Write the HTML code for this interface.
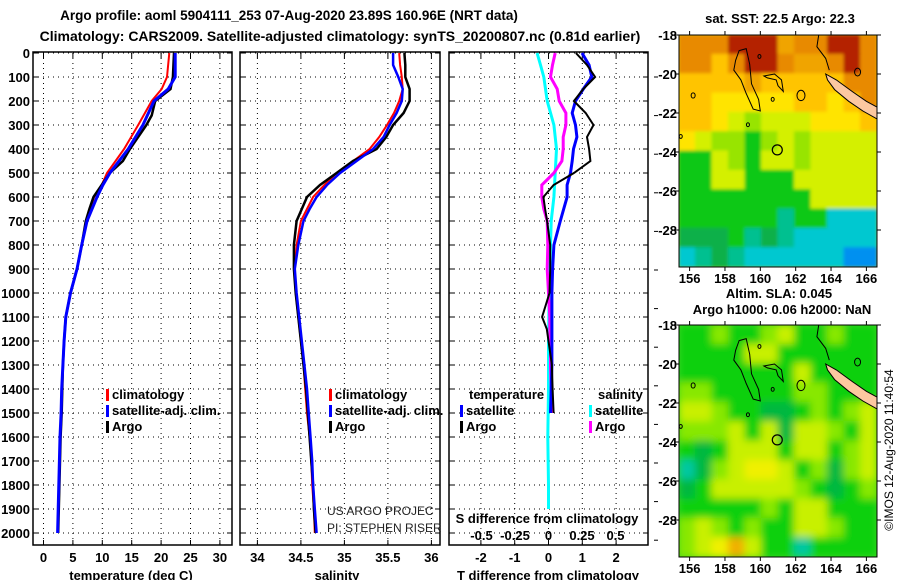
<!DOCTYPE html>
<html><head><meta charset="utf-8">
<style>
html,body{margin:0;padding:0;background:#fff;}
svg{display:block;font-family:"Liberation Sans",sans-serif;}
.t{font-weight:bold;font-size:13px;fill:#000;}
</style></head>
<body>
<svg id="chart" width="900" height="580" viewBox="0 0 900 580" xmlns="http://www.w3.org/2000/svg">
<text x="289" y="20" text-anchor="middle" class="t" style="font-size:13.5px">Argo profile: aoml 5904111_253 07-Aug-2020 23.89S 160.96E (NRT data)</text>
<text x="340" y="41" text-anchor="middle" class="t" style="font-size:14px">Climatology: CARS2009. Satellite-adjusted climatology: synTS_20200807.nc (0.81d earlier)</text>
<g id="plots"></g>
<g id="maps"></g>
<text transform="translate(893,450) rotate(-90)" text-anchor="middle" style="font-size:12px">©IMOS 12-Aug-2020 11:40:54</text>
</svg>
<script>
// ---- profile data ----
const depthTicks=[0,100,200,300,400,500,600,700,800,900,1000,1100,1200,1300,1400,1500,1600,1700,1800,1900,2000];
const tempTicks=[0,5,10,15,20,25,30];
const salTicks=[34,34.5,35,35.5,36];
const salTickLabels=["34","34.5","35","35.5","36"];
const tdiffTicks=[-2,-1,0,1,2];
const sdiffTicks=[-0.5,-0.25,0,0.25,0.5];
const sdiffTickLabels=["-0.5","-0.25","0","0.25","0.5"];

const tDepths=[0,100,150,200,300,400,500,550,600,700,800,900,1000,1100,1200,1300,1400,1500,1600,1700,1800,1900,2000];
const tempClim=[21.4,21.0,20.1,18.4,16.1,13.7,10.8,9.9,8.6,7.3,6.5,5.7,4.6,3.8,3.5,3.3,3.1,3.0,2.8,2.7,2.6,2.5,2.4];
const tempSat=[22.4,22.4,21.2,18.8,16.9,14.4,11.3,10.1,9.1,7.4,6.5,5.7,4.6,3.8,3.5,3.3,3.1,3.0,2.8,2.7,2.6,2.5,2.4];
const aDepths=[0,100,150,200,260,300,400,450,500,550,600,650,700,800,900,1000,1100,1200,1300,1400,1500,1600,1700,1800,1900,2000];
const tempArgo=[22.2,22.0,21.6,19.0,18.4,17.5,14.7,13.5,11.3,9.9,8.5,7.8,7.2,6.5,5.7,4.6,3.8,3.5,3.3,3.2,3.1,2.9,2.8,2.7,2.6,2.5];

const sDepths=[0,50,100,150,200,250,300,350,400,450,500,550,600,650,700,800,900,1000,1100,1200,1300,1400,1500,1600,1700,1800,1900,2000];
const salClim=[35.63,35.64,35.66,35.67,35.63,35.57,35.49,35.40,35.29,35.10,34.91,34.77,34.64,34.57,34.50,34.45,34.43,34.44,34.47,34.50,34.53,34.55,34.57,34.60,34.62,34.63,34.65,34.66];
const salSat=[35.56,35.56,35.62,35.67,35.66,35.60,35.52,35.45,35.33,35.14,34.95,34.80,34.68,34.60,34.53,34.47,34.43,34.45,34.48,34.51,34.54,34.57,34.59,34.61,34.63,34.64,34.66,34.68];
const salArgo=[35.69,35.70,35.70,35.75,35.75,35.68,35.56,35.48,35.37,35.10,34.91,34.72,34.57,34.51,34.45,34.42,34.42,34.44,34.47,34.50,34.53,34.56,34.58,34.60,34.62,34.64,34.65,34.67];

const dDepths=[0,50,100,150,200,250,300,350,400,450,500,550,600,650,700,800,900,1000,1100,1150,1200,1300,1400,1500];
const tdiffSat=[0.99,1.2,1.28,1.03,0.8,0.7,0.8,0.84,0.74,0.7,0.65,0.55,0.55,0.45,0.35,0.16,0.12,0.1,0.1,0.1,0.1,0.1,0.08,0.06];
const tdiffArgo=[0.81,1.14,1.38,1.03,0.75,1.1,1.33,1.14,1.2,1.24,0.75,0.15,-0.15,-0.1,-0.04,0.05,0.05,0.03,-0.19,-0.05,0.0,0.1,0.12,0.15];
const sdiffArgo=[0.05,0.03,0.015,0.065,0.08,0.13,0.13,0.11,0.11,0.1,0.04,-0.05,-0.05,-0.035,-0.01,-0.005,-0.01,0.0,0.01,0.01,0.015,0.015,0.02,0.02];
const sdDepths=[0,50,100,200,300,400,500,600,700,800,1000,1200,1400,1600,1800,1900];
const sdiffSat=[-0.085,-0.06,-0.035,-0.01,0.04,0.06,0.05,0.04,0.02,0.015,0.005,0.0,0.0,-0.005,0.0,0.0];

const NS="http://www.w3.org/2000/svg";
function el(tag,attrs,parent,text){const e=document.createElementNS(NS,tag);for(const k in attrs)e.setAttribute(k,attrs[k]);if(text!==undefined)e.textContent=text;parent.appendChild(e);return e;}

const yD=d=>53+d*0.24;
const xT=t=>43.5+t*5.88;
const xS=s=>257.4+(s-34)*87;
const xTD=t=>548.5+t*33.8;
const xSD=s=>548.5+s*134;

const plots=document.getElementById('plots');
const panels=[{l:33,r:232,name:'temperature-panel'},{l:240,r:440,name:'salinity-panel'},{l:449,r:648,name:'difference-panel'}];
const pTop=53,pBot=545;

function panelFrame(p,vx){
  const g=el('g',{},plots);
  
  
  depthTicks.forEach(d=>{
    const gl=el('line',{x1:p.l,x2:p.r,y1:yD(d),y2:yD(d),stroke:'#000','stroke-width':1,'stroke-dasharray':'1,4'},g);
    
    
    el('line',{x1:p.l,x2:p.l+5,y1:yD(d),y2:yD(d),stroke:'#000'},g);
    el('line',{x1:p.r-5,x2:p.r,y1:yD(d),y2:yD(d),stroke:'#000'},g);
  });
  vx.forEach(x=>{
    const gl=el('line',{x1:x,x2:x,y1:pTop,y2:pBot,stroke:'#000','stroke-width':1,'stroke-dasharray':'1,4'},g);
    
    
    el('line',{x1:x,x2:x,y1:pBot-5,y2:pBot,stroke:'#000'},g);
    el('line',{x1:x,x2:x,y1:pTop,y2:pTop+5,stroke:'#000'},g);
  });
  const fr=el('rect',{x:p.l,y:pTop-1,width:p.r-p.l,height:pBot-pTop+1,fill:'none',stroke:'#000','stroke-width':1.5},g);
  
  
  return g;
}
function line(g,xs,ds,fx,color,w,name){
  const pts=xs.map((v,i)=>fx(v).toFixed(1)+','+yD(ds[i]).toFixed(1)).join(' ');
  const pl=el('polyline',{points:pts,fill:'none',stroke:color,'stroke-width':w,'stroke-linejoin':'miter'},g);
  
  
}
function label(g,x,y,txt,name,anchor,extra){
  const t=el('text',Object.assign({x:x,y:y,'text-anchor':anchor||'middle',class:'t'},extra||{}),g,txt);
  
  
  return t;
}
function legend(g,x,y,color,txt,name){
  const m=el('rect',{x:x,y:y-10,width:3,height:12,fill:color},g);
  
  
  label(g,x+6,y,txt,name,'start');
}

// Panel 1
const g1=panelFrame(panels[0],tempTicks.map(xT));
depthTicks.forEach(d=>label(plots,30,yD(d)+5,String(d),'depth-tick-label','end'));
tempTicks.forEach(t=>label(g1,xT(t),562,String(t),'temp-tick-label'));
label(g1,131,580,'temperature (deg C)','x-axis-title-temperature');
line(g1,tempClim,tDepths,xT,'#f00',2,'temp-climatology-line');
line(g1,tempArgo,aDepths,xT,'#000',2.5,'temp-argo-line');
line(g1,tempSat,tDepths,xT,'#00f',3,'temp-satellite-line');
legend(g1,106,399,'#f00','climatology','legend-climatology');
legend(g1,106,415,'#00f','satellite-adj. clim.','legend-satellite');
legend(g1,106,431,'#000','Argo','legend-argo');

// Panel 2
const g2=panelFrame(panels[1],salTicks.map(xS));
salTicks.forEach((s,i)=>label(g2,xS(s),562,salTickLabels[i],'sal-tick-label'));
label(g2,337,580,'salinity','x-axis-title-salinity');
line(g2,salClim,sDepths,xS,'#f00',2,'sal-climatology-line');
line(g2,salArgo,sDepths,xS,'#000',2.5,'sal-argo-line');
line(g2,salSat,sDepths,xS,'#00f',2.5,'sal-satellite-line');
legend(g2,329,399,'#f00','climatology','legend-climatology');
legend(g2,329,415,'#00f','satellite-adj. clim.','legend-satellite');
legend(g2,329,431,'#000','Argo','legend-argo');
const c1=el('text',{x:327,y:515,style:'font-size:12px;fill:#222'},g2,'US ARGO PROJEC');

const c2=el('text',{x:327,y:532,style:'font-size:12px;fill:#222'},g2,'PI: STEPHEN RISER');


// Panel 3
const g3=panelFrame(panels[2],tdiffTicks.map(xTD));
tdiffTicks.forEach(t=>label(g3,xTD(t),562,String(t),'tdiff-tick-label'));
label(g3,548,580,'T difference from climatology','x-axis-title-tdiff');
sdiffTicks.forEach((s,i)=>label(g3,xSD(s),540,sdiffTickLabels[i],'sdiff-tick-label'));
label(g3,547,523,'S difference from climatology','sdiff-axis-title');
line(g3,sdiffSat,sdDepths,xSD,'#0ff',3,'sdiff-satellite-line');
line(g3,sdiffArgo,dDepths,xSD,'#f0f',3,'sdiff-argo-line');
line(g3,tdiffSat,dDepths,xTD,'#00f',3,'tdiff-satellite-line');
line(g3,tdiffArgo,dDepths,xTD,'#000',2,'tdiff-argo-line');
label(g3,469,399,'temperature','legend-temperature-heading','start');
label(g3,598,399,'salinity','legend-salinity-heading','start');
legend(g3,460,415,'#00f','satellite','legend-tdiff-satellite');
legend(g3,460,431,'#000','Argo','legend-tdiff-argo');
legend(g3,589,415,'#0ff','satellite','legend-sdiff-satellite');
legend(g3,589,431,'#f0f','Argo','legend-sdiff-argo');
for(let y=77;y<545;y+=38.6){el('line',{x1:654,x2:658,y1:y,y2:y,stroke:'#000'},plots);}

// ---- maps ----
const mapLonTicks=[156,158,160,162,164,166];
const mapLatTicks=[-18,-20,-22,-24,-26,-28];
const sstPal={R:'#b42000',O:'#e88a00',o:'#f0a400',Y:'#ffc400',y:'#ffe400',L:'#d4f000',l:'#98e400',G:'#10c818',g:'#10b048',T:'#00c090',C:'#00c8d0',B:'#0090f0'};
const sstRows=["OOORRRoOORRO","OOYORROooORO","YYYYoYYYYYOO","YYyyyyyYYyYO","YYyLlLLLyyyY","yLllGlLlLLLL","GGLlGLLlLLLL","GGLLGGGLLLLL","GGGGGGGGLLLL","GGGGGGTGGCCC","gggGTgTCCCCC","CTgTCCCCCCBB"];
const slaPal={G:'#10d010',g:'#00b840',l:'#88e800',L:'#c8f000',y:'#f0f000',O:'#f0b000',C:'#00c8a0'};
const slaRows=["GGlGGlLGGlGG","GGGGLLGGGGGG","GGGGGGGLGGGG","llGGGGGllGGG","LLlGGggGlGlL","lllLGLgLLlGL","GgGLLLGLLGlL","CglLyyLGlglL","gGLLLLLlGgGl","GGGGGlGLLGGG","lLlGlGGLLlGG","lLyOLGGCGGGG"];
const coastIsland1=[[158.8,-18.8],[159.2,-18.7],[159.4,-19.5],[159.5,-20.5],[159.9,-21.3],[160.0,-21.9],[159.6,-21.8],[159.2,-21.0],[158.9,-20.3],[158.5,-19.8],[158.6,-19.3]];
const coastIsland2=[[160.2,-20.1],[160.8,-20.0],[161.2,-20.3],[161.3,-20.9],[161.0,-20.6],[160.9,-20.3],[160.4,-20.2]];
const coastNorth=[[163.3,-18.0],[163.2,-18.6],[163.7,-19.2],[163.9,-19.8]];
const newCaledonia=[[163.7,-20.0],[164.3,-20.3],[165.2,-20.9],[166.0,-21.4],[166.6,-21.7],[166.6,-22.3],[165.8,-21.9],[165.0,-21.4],[164.2,-20.8],[163.8,-20.3]];
const argoPos=[160.96,-23.89];

const maps=document.getElementById('maps');
function drawMap(y0,rows,pal,name,filt,bg){
  const L=679,R=877,T=y0,B=y0+232;
  const xL=lon=>L+(lon-155.4)/11.2*(R-L);
  const yL=lat=>T+(-18-lat)*19.5;
  const g=el('g',{},maps);
  
  
  const cid='clip'+name;
  const cp=el('clipPath',{id:cid},g);el('rect',{x:L,y:T,width:R-L,height:B-T},cp);
  const fg=el('g',{'clip-path':'url(#'+cid+')'},g);
  el('rect',{x:L,y:T,width:R-L,height:B-T,fill:bg},fg);
  const inner=el('g',{filter:'url(#'+filt+')'},fg);
  const nr=rows.length,nc=rows[0].length,cw=(R-L)/nc,ch=(B-T)/nr;
  rows.forEach((row,i)=>{for(let j=0;j<nc;j++){
    const c=el('rect',{x:L+j*cw-0.5,y:T+i*ch-0.5,width:cw+1,height:ch+1,fill:pal[row[j]]},inner);
    
    
  }});
  const pp=a=>a.map(p=>xL(p[0]).toFixed(1)+','+yL(p[1]).toFixed(1)).join(' ');
  el('polygon',{points:pp(newCaledonia),fill:'#fcc8a0',stroke:'#000','stroke-width':1},fg);
  el('polygon',{points:pp(coastIsland1),fill:'none',stroke:'#000','stroke-width':1},fg);
  el('polygon',{points:pp(coastIsland2),fill:'none',stroke:'#000','stroke-width':1},fg);
  el('polyline',{points:pp(coastNorth),fill:'none',stroke:'#000','stroke-width':1},fg);
  [[162.3,-21.1,4],[156.2,-21.1,2],[155.5,-23.2,1.5],[159.3,-22.6,1.5],[159.95,-19.1,1.5],[165.5,-19.9,3],[160.7,-21.3,1.5]].forEach(c=>el('ellipse',{cx:xL(c[0]),cy:yL(c[1]),rx:c[2],ry:c[2]*1.3,fill:'none',stroke:'#000'},fg));
  const ac=el('circle',{cx:xL(argoPos[0]),cy:yL(argoPos[1]),r:5,fill:'none',stroke:'#000','stroke-width':1.2},fg);
  
  
  el('rect',{x:L,y:T,width:R-L,height:B-T,fill:'none',stroke:'#000','stroke-width':1},g);
  mapLonTicks.forEach(lon=>{
    el('line',{x1:xL(lon),x2:xL(lon),y1:T-4,y2:T,stroke:'#000'},g);
    el('line',{x1:xL(lon),x2:xL(lon),y1:B,y2:B+4,stroke:'#000'},g);
    label(g,xL(lon),B+16,String(lon),'map-lon-tick-label');
  });
  mapLatTicks.forEach(lat=>{
    el('line',{x1:L-4,x2:L,y1:yL(lat),y2:yL(lat),stroke:'#000'},g);
    el('line',{x1:R,x2:R+4,y1:yL(lat),y2:yL(lat),stroke:'#000'},g);
    label(g,677,yL(lat)+5,String(lat),'map-lat-tick-label','end');
  });
}
const defs=el('defs',{},maps);
const blurA=el('filter',{id:'bl',x:'-5%',y:'-5%',width:'110%',height:'110%'},defs);
el('feGaussianBlur',{stdDeviation:4},blurA);
const blurB=el('filter',{id:'bls',x:'-5%',y:'-5%',width:'110%',height:'110%'},defs);
el('feGaussianBlur',{stdDeviation:1.5},blurB);
drawMap(35,sstRows,sstPal,'sst-map','bls','#e0e000');
drawMap(325,slaRows,slaPal,'sla-map','bl','#40d820');
label(maps,780,23,'sat. SST: 22.5 Argo: 22.3','sst-map-title');
label(maps,779,298,'Altim. SLA: 0.045','sla-map-title');
label(maps,782,314,'Argo h1000: 0.06 h2000: NaN','sla-map-subtitle');
</script>
</body></html>
